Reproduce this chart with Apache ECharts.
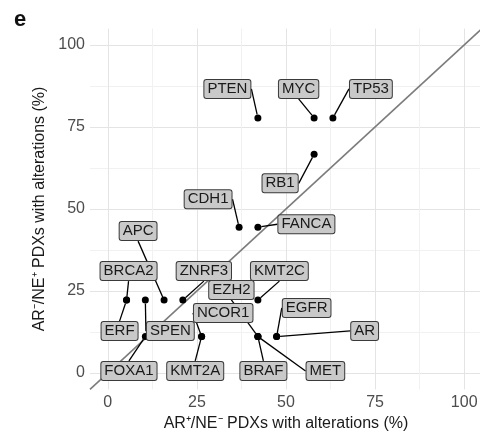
<!DOCTYPE html>
<html><head><meta charset="utf-8">
<script src="https://cdn.jsdelivr.net/npm/echarts@6/dist/echarts.min.js"></script>
<style>html,body{margin:0;padding:0;background:#fff}#c{width:480px;height:434px}</style>
</head><body><div id="c"></div>
<script>
// Genes and alteration frequencies (%)
const genes = ['PTEN','MYC','TP53','RB1','CDH1','FANCA','APC','BRCA2','ERF','SPEN','ZNRF3','KMT2C','EZH2','EGFR','NCOR1','KMT2A','AR','FOXA1','BRAF','MET'];
const arPosNeNeg = [42.11, 57.89, 63.16, 57.89, 36.84, 42.11, 15.79, 5.26, 5.26, 10.53, 21.05, 42.11, 42.11, 47.37, 26.32, 26.32, 47.37, 10.53, 42.11, 42.11];
const arNegNePos = [77.78, 77.78, 77.78, 66.67, 44.44, 44.44, 22.22, 22.22, 22.22, 22.22, 22.22, 22.22, 11.11, 11.11, 11.11, 11.11, 11.11, 11.11, 11.11, 11.11];
const majorTicks = [0, 25, 50, 75, 100];
const minorTicks = [12.5, 37.5, 62.5, 87.5];
const identityLine = [-5, 105];
// label placement offsets (px) relative to each point (repel-style layout)
const labelDx = [-30.5, -15.5, 38, -34, -31, 48.5, -26, 2, -7, 25, 21, 21.5, -26.5, 30, 21.6, -6.4, 88, -16.4, 5.5, 67.5];
const labelDy = [-29, -29, -29, 29, -28, -3, -69, -29, 31, 31, -29, -29, -46.6, -28.6, -23.6, 34.4, -5.6, 34.4, 34.4, 34.4];

const FONT = '"Liberation Sans", Arial, Helvetica, sans-serif';
const chart = echarts.init(document.getElementById('c'), null, {renderer: 'canvas'});

function mkAxis(ticks, show, lineColor, name, gap, extra) {
  return Object.assign({
    type: 'value', min: -5, max: 105,
    axisLine: {show: false},
    axisTick: {show: false, customValues: ticks},
    axisLabel: show ? {show: true, customValues: ticks, color: '#4d4d4d', fontSize: 16, fontFamily: FONT, margin: 5} : {show: false},
    splitLine: {show: true, lineStyle: {color: lineColor, width: 1}},
    name: name, nameLocation: 'middle', nameGap: gap,
    nameTextStyle: {color: '#1a1a1a', fontSize: 16, fontFamily: FONT}
  }, extra || {});
}

const points = genes.map((g, i) => ({name: g, value: [arPosNeNeg[i], arNegNePos[i]]}));

chart.setOption({
  animation: false,
  backgroundColor: '#ffffff',
  title: {text: 'e', left: 9, top: 4, textStyle: {fontSize: 22, fontWeight: 'bold', color: '#111', fontFamily: FONT}},
  grid: {left: 90, top: 28.6, width: 392, height: 360.8, containLabel: false, outerBoundsMode: 'none'},
  xAxis: [
    mkAxis(majorTicks, true, '#e4e4e4', 'AR\u207A/NE\u207B PDXs with alterations (%)', 22, {position: 'bottom'}),
    mkAxis(minorTicks, false, '#f1f1f1', '', 0, {position: 'bottom'})
  ],
  yAxis: [
    mkAxis(majorTicks, true, '#e4e4e4', 'AR\u207B/NE\u207A PDXs with alterations (%)', 41, {position: 'left'}),
    mkAxis(minorTicks, false, '#f1f1f1', '', 0, {position: 'left'})
  ],
  series: [
    {
      type: 'line', xAxisIndex: 0, yAxisIndex: 0, z: 2,
      data: [[identityLine[0], identityLine[0]], [identityLine[1], identityLine[1]]],
      symbol: 'none', silent: true,
      lineStyle: {color: '#7c7c7c', width: 1.6}
    },
    {
      type: 'scatter', xAxisIndex: 0, yAxisIndex: 0, z: 3,
      data: points,
      symbol: 'circle', symbolSize: 7,
      itemStyle: {color: '#000000', opacity: 1},
      label: {
        show: true, position: 'inside', formatter: '{b}',
        fontSize: 15, fontFamily: FONT, color: '#1a1a1a',
        backgroundColor: '#c9c9c9', borderColor: '#3a3a3a', borderWidth: 1, borderRadius: 2,
        padding: [2, 3, 1, 3]
      },
      labelLine: {show: true, lineStyle: {color: '#000000', width: 1.3, opacity: 1}},
      labelLayout: function (p) { return {dx: labelDx[p.dataIndex], dy: labelDy[p.dataIndex], hideOverlap: false}; },
      emphasis: {disabled: true}
    }
  ]
});
</script></body></html>
